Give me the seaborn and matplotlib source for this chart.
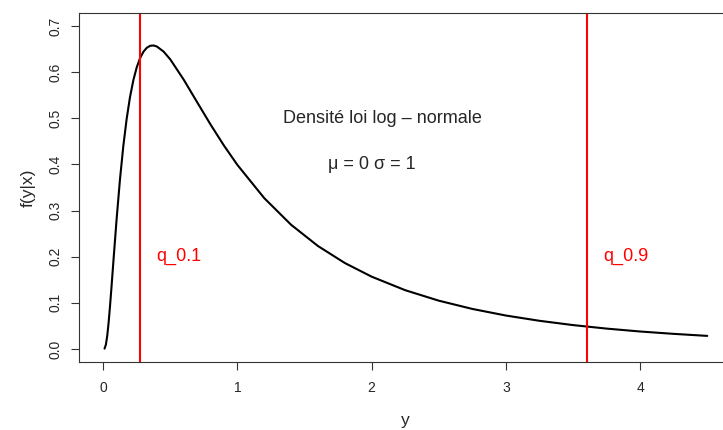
import numpy as np
import pandas as pd
import matplotlib
matplotlib.use("Agg")
import matplotlib.pyplot as plt
import seaborn as sns

# densite log-normale mu=0, sigma=1
y_vals = [0.01, 0.02, 0.03, 0.04, 0.05, 0.06, 0.08, 0.1, 0.125, 0.15, 0.175,
          0.2, 0.225, 0.25, 0.275, 0.3, 0.325, 0.35, 0.375, 0.4, 0.45, 0.5,
          0.6, 0.7, 0.8, 0.9, 1.0, 1.2, 1.4, 1.6, 1.8, 2.0, 2.25, 2.5, 2.75,
          3.0, 3.25, 3.5, 3.75, 4.0, 4.25, 4.5]
dens_vals = [0.0010, 0.0095, 0.0284, 0.0562, 0.0899, 0.1271, 0.2053, 0.2816,
             0.3674, 0.4399, 0.4990, 0.5463, 0.5828, 0.6105, 0.6305, 0.6442,
             0.6528, 0.6570, 0.6577, 0.6555, 0.6445, 0.6275, 0.5836, 0.5348,
             0.4864, 0.4408, 0.3989, 0.3270, 0.2693, 0.2233, 0.1865, 0.1569,
             0.1276, 0.1049, 0.0870, 0.0727, 0.0613, 0.0520, 0.0444, 0.0381,
             0.0330, 0.0286]

q_names = ["q_0.1", "q_0.9"]
q_vals = [0.2776, 3.602]

x_ticks = [0, 1, 2, 3, 4]
y_ticks = [0.0, 0.1, 0.2, 0.3, 0.4, 0.5, 0.6, 0.7]

df = pd.DataFrame({"y": y_vals, "f": dens_vals})

sns.set_style("white")
plt.rcParams['font.family'] = ['Liberation Sans', 'DejaVu Sans']

fig = plt.figure(figsize=(7.23, 4.30), dpi=100)
ax = fig.add_axes([0.1093, 0.1581, 0.9023, 0.8116])

sns.lineplot(data=df, x="y", y="f", color="black", linewidth=1.5, ax=ax)

for name, q in zip(q_names, q_vals):
    ax.axvline(q, color="red", linewidth=1.5)
    ax.text(q + 0.12, 0.2, name, color="red", fontsize=13, ha="left", va="center")

ax.text(2.08, 0.5, "Densité loi log – normale", fontsize=13, ha="center", va="center")
ax.text(2.0, 0.4, "μ = 0 σ = 1", fontsize=13, ha="center", va="center")

ax.set_xlim(-0.18, 4.68)
ax.set_ylim(-0.028, 0.728)
ax.set_xticks(x_ticks)
ax.set_yticks(y_ticks)
ax.set_xticklabels([str(t) for t in x_ticks])
ax.set_yticklabels([f"{t:.1f}" for t in y_ticks], rotation=90, va="center")

for sp in ax.spines.values():
    sp.set_visible(True)
    sp.set_color("#333333")
    sp.set_linewidth(0.8)

ax.tick_params(axis="both", direction="out", length=6, width=0.8, color="#333333",
               labelsize=10, bottom=True, left=True)
ax.tick_params(axis="x", pad=8)
ax.tick_params(axis="y", pad=6)

ax.set_xlabel("y", fontsize=12.5, va="center")
ax.set_ylabel("f(y|x)", fontsize=12.5, va="center")
ax.xaxis.set_label_coords(0.4997, -0.169)
ax.yaxis.set_label_coords(-0.078, 0.5)
ax.grid(False)

plt.savefig("out.png", dpi=100)
plt.close()
